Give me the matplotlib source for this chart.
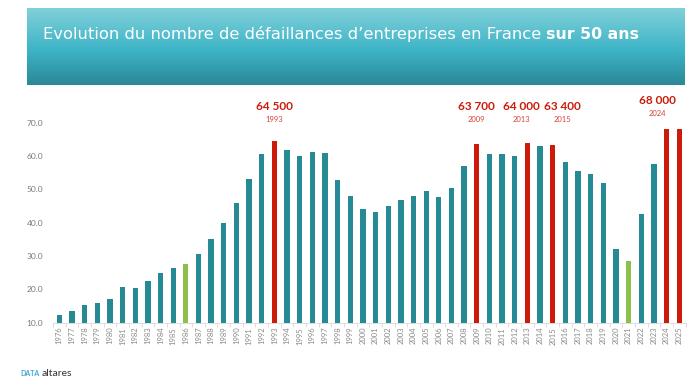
import numpy as np
import matplotlib.pyplot as plt

# Data (milliers de défaillances)
years = list(range(1976, 2026))
values = [12.2, 13.6, 15.4, 15.8, 17.2, 20.8, 20.3, 22.6, 24.9, 26.3,
          27.6, 30.5, 35.0, 40.0, 46.0, 53.2, 60.6, 64.5, 61.9, 60.1,
          61.3, 60.9, 52.7, 48.1, 44.1, 43.3, 44.9, 46.9, 48.1, 49.4,
          47.6, 50.3, 56.9, 63.7, 60.6, 60.5, 60.0, 64.0, 63.1, 63.4,
          58.2, 55.4, 54.6, 51.9, 32.0, 28.4, 42.5, 57.6, 68.0, 68.0]
red_years = [1993, 2009, 2013, 2015, 2024, 2025]
green_years = [1986, 2021]

peak_labels = ['64 500', '63 700', '64 000', '63 400', '68 000']
peak_years = ['1993', '2009', '2013', '2015', '2024']
peak_xpos = [17, 33, 36.5, 39.8, 47.3]
peak_ypos = [74.8, 74.8, 74.8, 74.8, 76.6]

teal = '#268a94'
red = '#cc1b0b'
green = '#8dc04b'
colors = [red if y in red_years else green if y in green_years else teal for y in years]

W, H = 692, 383
fig = plt.figure(figsize=(W / 100, H / 100), dpi=100)
plt.rcParams['font.family'] = ['Lato', 'DejaVu Sans']

# Bandeau titre en dégradé
bx0, bx1, by0, by1 = 27, 685, 8, 85
top = np.array([0x80, 0xd0, 0xd9]) / 255
mid = np.array([0x3d, 0xb4, 0xc7]) / 255
bot = np.array([0x2b, 0x88, 0x97]) / 255
img = np.zeros((100, 1, 3))
for i, t in enumerate(np.linspace(0, 1, 100)):
    if t < 0.55:
        img[i, 0] = top + (mid - top) * (t / 0.55)
    else:
        img[i, 0] = mid + (bot - mid) * ((t - 0.55) / 0.45)
bax = fig.add_axes([bx0 / W, 1 - by1 / H, (bx1 - bx0) / W, (by1 - by0) / H])
bax.imshow(img, aspect='auto', extent=[0, 1, 0, 1])
bax.axis('off')
t1 = bax.text(0.024, 0.66, "Evolution du nombre de défaillances d’entreprises en France ",
              color='white', fontsize=11.8, va='center', ha='left', family='DejaVu Sans',
              transform=bax.transAxes)
fig.canvas.draw()
bb = t1.get_window_extent().transformed(bax.transAxes.inverted())
bax.text(bb.x1, 0.66, "sur 50 ans", color='white', fontsize=11.3, fontweight='bold',
         family='DejaVu Sans', va='center', ha='left', transform=bax.transAxes)

# Graphique
ax = fig.add_axes([53 / W, 1 - 322.7 / H, (685.5 - 53) / W, (322.7 - 89.4) / H])
x = np.arange(len(years))
ax.bar(x, np.array(values) - 10, bottom=10, width=0.42, color=colors)
ax.set_ylim(10, 80)
ax.set_xlim(-0.5, len(years) - 0.5)
ax.set_yticks(np.arange(10, 71, 10))
ax.set_yticklabels([f'{v:.1f}' for v in np.arange(10, 71, 10)])
ax.set_xticks(x)
ax.set_xticklabels([str(y) for y in years], rotation=90)
ax.set_xticks(np.arange(-0.5, len(years), 1), minor=True)
ax.tick_params(axis='x', which='major', length=0, pad=3, labelsize=5.5, labelcolor='#8a8a8a')
ax.tick_params(axis='x', which='minor', length=3, color='#d8d8d8', width=0.6)
ax.tick_params(axis='y', length=0, pad=7, labelsize=6, labelcolor='#7a7a7a')
for s in ['top', 'right', 'left']:
    ax.spines[s].set_visible(False)
ax.spines['bottom'].set_color('#d8d8d8')
ax.spines['bottom'].set_linewidth(0.6)

for lab, yr, xp, yp in zip(peak_labels, peak_years, peak_xpos, peak_ypos):
    ax.text(xp, yp, lab, color=red, fontsize=8.5, fontweight='bold', ha='center', va='center')
    ax.text(xp, yp - 3.7, yr, color='#d4463a', fontsize=5.5, ha='center', va='center')

# Logo
fig.text(20 / W, 1 - 373 / H, 'DATA', color='#3aa6d0', fontsize=5, fontweight='bold',
         ha='left', va='center')
fig.text(42 / W, 1 - 373 / H, 'altares', color='#333333', fontsize=7.5, ha='left', va='center')

fig.savefig('out.png', dpi=100)
